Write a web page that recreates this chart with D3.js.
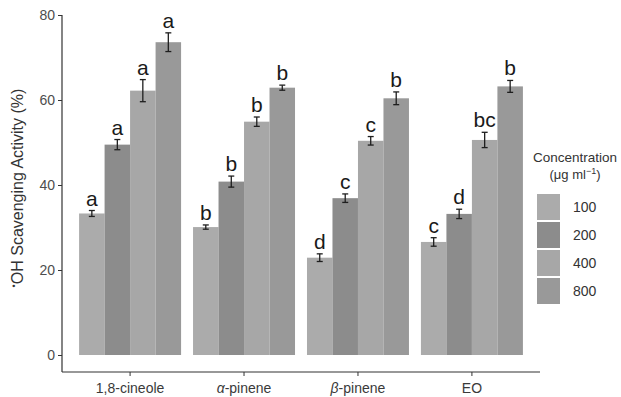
<!DOCTYPE html>
<html><head><meta charset="utf-8">
<script src="https://cdn.jsdelivr.net/npm/d3@7/dist/d3.min.js"></script>
<style>body{margin:0;background:#fff;} svg{display:block;font-family:"Liberation Sans",Arial,sans-serif;}</style>
</head><body><svg id="c" width="621" height="397"></svg>
<script>
const categories = ["1,8-cineole", "α-pinene", "β-pinene", "EO"];
const concentrations = ["100", "200", "400", "800"];
const values = {
  "100": [33.3, 30.1, 22.9, 26.6],
  "200": [49.5, 40.8, 36.9, 33.2],
  "400": [62.2, 54.9, 50.4, 50.6],
  "800": [73.6, 62.9, 60.4, 63.2]
};
const errors = {
  "100": [0.7, 0.5, 0.9, 1.0],
  "200": [1.2, 1.3, 1.0, 1.1],
  "400": [2.6, 1.1, 1.0, 1.8],
  "800": [2.2, 0.6, 1.5, 1.4]
};
const letters = {
  "100": ["a", "b", "d", "c"],
  "200": ["a", "b", "c", "d"],
  "400": ["a", "b", "c", "bc"],
  "800": ["a", "b", "b", "b"]
};
const yTicks = [0, 20, 40, 60, 80];
const colors = ["#ababab", "#8c8c8c", "#a7a7a7", "#999999"];

const svg = d3.select("#c");
const mLeft = 62, mRight = 540, mTop = 15, mBottom = 372;
const x = d3.scaleBand().domain(categories).range([mLeft, mRight]).paddingInner(0.105).paddingOuter(0.15);
const xs = d3.scaleBand().domain(concentrations).range([0, x.bandwidth()]);
const y = d3.scaleLinear().domain([0, 80]).range([355, 15]);
const color = d3.scaleOrdinal().domain(concentrations).range(colors);

const data = [];
concentrations.forEach(c => categories.forEach((cat, i) => {
  data.push({cat, c, v: values[c][i], e: errors[c][i], l: letters[c][i]});
}));

const g = svg.append("g");
g.selectAll("rect.bar").data(data).enter().append("rect")
  .attr("x", d => x(d.cat) + xs(d.c))
  .attr("width", xs.bandwidth())
  .attr("y", d => y(d.v))
  .attr("height", d => y(0) - y(d.v))
  .attr("fill", d => color(d.c));

// error bars
const eb = g.selectAll("g.eb").data(data).enter().append("g")
  .attr("stroke", "#1e1e1e").attr("stroke-width", 1.3);
eb.append("line")
  .attr("x1", d => x(d.cat) + xs(d.c) + xs.bandwidth()/2)
  .attr("x2", d => x(d.cat) + xs(d.c) + xs.bandwidth()/2)
  .attr("y1", d => y(d.v - d.e)).attr("y2", d => y(d.v + d.e));
[-1, 1].forEach(s => {
  eb.append("line")
    .attr("x1", d => x(d.cat) + xs(d.c) + xs.bandwidth()/2 - 3)
    .attr("x2", d => x(d.cat) + xs(d.c) + xs.bandwidth()/2 + 3)
    .attr("y1", d => y(d.v + s*d.e)).attr("y2", d => y(d.v + s*d.e));
});

// letters
g.selectAll("text.lt").data(data).enter().append("text")
  .attr("x", d => x(d.cat) + xs(d.c) + xs.bandwidth()/2)
  .attr("y", d => y(d.v + d.e) - 5)
  .attr("text-anchor", "middle")
  .attr("font-size", 21).attr("fill", "#1a1a1a")
  .text(d => d.l);

// y axis
const yAxis = svg.append("g").attr("transform", `translate(${mLeft},0)`)
  .call(d3.axisLeft(y).tickValues(yTicks).tickSize(4).tickPadding(3));
yAxis.select(".domain").remove();
yAxis.selectAll(".tick line").attr("stroke", "#333");
yAxis.selectAll(".tick text").attr("font-size", 14).attr("fill", "#4d4d4d").attr("font-family", "Liberation Sans, Arial, sans-serif");
svg.append("line").attr("x1", mLeft).attr("x2", mLeft).attr("y1", mTop).attr("y2", mBottom)
  .attr("stroke", "#333").attr("stroke-width", 1.2);

// x axis
const xAxis = svg.append("g").attr("transform", `translate(0,${mBottom})`)
  .call(d3.axisBottom(x).tickSize(4).tickPadding(4).tickFormat(""));
xAxis.select(".domain").remove();
xAxis.selectAll(".tick line").attr("stroke", "#333");
svg.append("line").attr("x1", mLeft).attr("x2", mRight).attr("y1", mBottom).attr("y2", mBottom)
  .attr("stroke", "#333").attr("stroke-width", 1.2);

const xl = svg.append("g").selectAll("text").data(categories).enter().append("text")
  .attr("x", d => x(d) + x.bandwidth()/2).attr("y", 393)
  .attr("text-anchor", "middle").attr("font-size", 14).attr("fill", "#3a3a3a");
xl.each(function(d) {
  const t = d3.select(this);
  if (d.startsWith("α") || d.startsWith("β")) {
    t.append("tspan").attr("font-style", "italic").text(d[0]);
    t.append("tspan").text(d.slice(1));
  } else t.text(d);
});

// y title
const yt = svg.append("text").attr("transform", "translate(23,188) rotate(-90)")
  .attr("text-anchor", "middle").attr("font-size", 16).attr("fill", "#333");
yt.append("tspan").attr("font-size", 9).attr("dy", -6).text("•");
yt.append("tspan").attr("dy", 6).text("OH Scavenging Activity (%)");

// legend
const lg = svg.append("g");
lg.append("text").attr("x", 575).attr("y", 162).attr("text-anchor", "middle")
  .attr("font-size", 13.5).attr("fill", "#333").text("Concentration");
const sub = lg.append("text").attr("x", 575).attr("y", 179).attr("text-anchor", "middle")
  .attr("font-size", 13).attr("fill", "#333");
sub.append("tspan").text("(μg  ml");
sub.append("tspan").attr("font-size", 9).attr("dy", -5).text("−1");
sub.append("tspan").attr("dy", 5).text(")");
const items = lg.selectAll("g.it").data(concentrations).enter().append("g")
  .attr("transform", (d, i) => `translate(537,${194 + i*28})`);
items.append("rect").attr("width", 23).attr("height", 26).attr("fill", d => color(d));
items.append("text").attr("x", 36).attr("y", 18).attr("font-size", 14).attr("fill", "#333").text(d => d);
</script></body></html>
